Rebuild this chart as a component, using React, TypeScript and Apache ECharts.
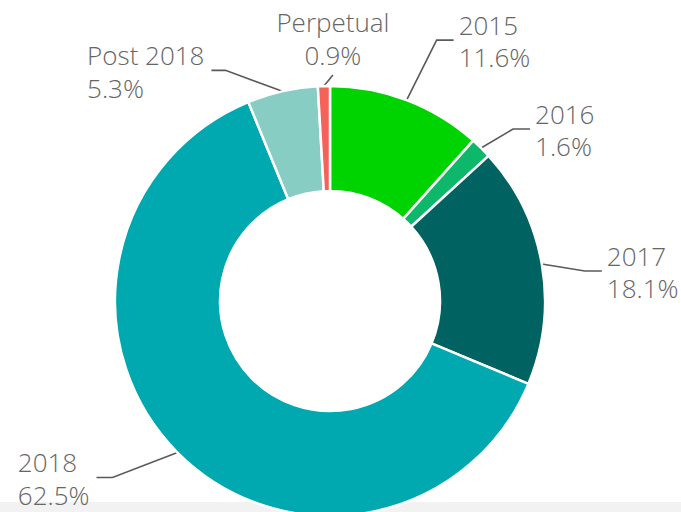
import React, { useEffect, useRef } from "react";
import * as echarts from "echarts";

const categories = ["2015", "2016", "2017", "2018", "Post 2018", "Perpetual"];
const values = [11.6, 1.6, 18.1, 62.5, 5.3, 0.9];
const colors = ["#00d400", "#0db86b", "#006361", "#00a8b0", "#88cdc4", "#f4625a"];

// label line geometry: elbow offset from the slice edge point, horizontal tail length
const labelGeom = [
  { ex: 30, ey: -60, len2: 17, top: false },
  { ex: 32, ey: -19, len2: 17, top: false },
  { ex: 43, ey: 7, len2: 17, top: false },
  { ex: -65, ey: 25, len2: 16, top: false },
  { ex: -57, ey: -21, len2: 14, top: false },
  { ex: 9, ey: -11, len2: 0, top: true },
];

export default function App() {
  const ref = useRef<HTMLDivElement>(null);
  useEffect(() => {
    if (!ref.current) return;
    const chart = echarts.init(ref.current, undefined, { renderer: "svg" });
    chart.setOption({
      animation: false,
      backgroundColor: "#ffffff",
      graphic: [
        {
          type: "rect",
          left: 0,
          bottom: 0,
          z: -10,
          shape: { width: 681, height: 10 },
          style: { fill: "#f2f2f2" },
        },
      ],
      series: [
        {
          type: "pie",
          center: [330, 301],
          radius: [110, 215],
          startAngle: 90,
          clockwise: true,
          avoidLabelOverlap: false,
          data: categories.map((c, i) => ({
            name: c,
            value: values[i],
            itemStyle: { color: colors[i] },
          })),
          itemStyle: { borderColor: "#ffffff", borderWidth: 2.5 },
          label: {
            show: true,
            position: "outside",
            formatter: (p: any) => `${p.name}\n${Number(p.value).toFixed(1)}%`,
            fontFamily: "Open Sans",
            fontWeight: 300,
            fontSize: 26,
            lineHeight: 32.5,
            color: "#666666",
          },
          labelLine: {
            show: true,
            length: 20,
            length2: 15,
            lineStyle: { color: "#5a5a5a", width: 1.6 },
          },
          labelLayout: (params: any) => {
            const pts = params.labelLinePoints;
            if (!pts) return {};
            const g = labelGeom[params.dataIndex];
            const p0 = pts[0];
            const p1 = [p0[0] + g.ex, p0[1] + g.ey];
            if (g.top) {
              return {
                x: p1[0],
                y: p1[1] - 4,
                align: "center",
                verticalAlign: "bottom",
                labelLinePoints: [p0, p1, p1],
              };
            }
            const dir = g.ex >= 0 ? 1 : -1;
            const p2 = [p1[0] + dir * g.len2, p1[1]];
            const x = dir > 0 ? p2[0] + 5 : p2[0] - 7 - params.labelRect.width;
            return {
              x,
              y: p2[1] + 1,
              align: "left",
              verticalAlign: "middle",
              labelLinePoints: [p0, p1, p2],
            };
          },
        },
      ],
    });
    return () => chart.dispose();
  }, []);
  return (
    <div
      ref={ref}
      style={{ position: "fixed", left: 0, top: 0, width: 681, height: 512, background: "#fff" }}
    />
  );
}
